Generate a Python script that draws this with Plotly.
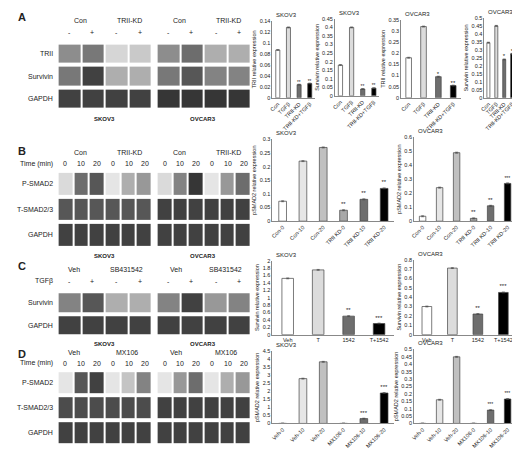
import plotly.graph_objects as go

W, H = 520, 450

# ---- bar chart data ----
a_cats = ["Con", "TGFβ", "TRII-KD", "TRII-KD+TGFβ"]
a_skov_trii = [0.087, 0.128, 0.024, 0.026]
a_skov_surv = [0.18, 0.40, 0.04, 0.045]
a_ov_trii = [0.18, 0.32, 0.095, 0.055]
a_ov_surv = [0.345, 0.45, 0.24, 0.275]
a_sig_skov = ["", "", "**", "**"]
a_sig_ov = ["", "", "*", "**"]
a_sig_ov_s = ["", "", "*", "*"]

b_cats = ["Con-0", "Con-10", "Con-20", "TRII KD-0", "TRII KD-10", "TRII KD-20"]
b_skov = [0.073, 0.22, 0.27, 0.04, 0.08, 0.12]
b_ov = [0.035, 0.24, 0.49, 0.02, 0.11, 0.27]
b_sig_skov = ["", "", "", "**", "**", "**"]
b_sig_ov = ["", "", "", "**", "**", "***"]

c_cats = ["Veh", "T", "1542", "T+1542"]
c_skov = [1.52, 1.75, 0.5, 0.3]
c_ov = [0.30, 0.71, 0.22, 0.45]
c_sig = ["", "", "**", "***"]

d_cats = ["Veh-0", "Veh-10", "Veh-20", "MX106-0", "MX106-10", "MX106-20"]
d_skov = [0, 2.8, 3.85, 0, 0.3, 1.9]
d_ov = [0, 0.16, 0.45, 0, 0.09, 0.165]
d_sig = ["", "", "", "", "***", "***"]

col4 = ["white", "#dcdcdc", "#6e6e6e", "black"]
col6 = ["white", "#e6e6e6", "#c0c0c0", "#a8a8a8", "#6e6e6e", "black"]

# ---- blot band intensities (0 light .. 1 dark) ----
blots = {
    "A_skov": (["TRII", "Survivin", "GAPDH"], [[0.45, 0.55, 0.12, 0.18], [0.55, 0.8, 0.3, 0.3], [0.8, 0.8, 0.8, 0.8]]),
    "A_ov": (None, [[0.45, 0.6, 0.3, 0.3], [0.55, 0.7, 0.5, 0.5], [0.85, 0.85, 0.85, 0.85]]),
    "B_skov": (["P-SMAD2", "T-SMAD2/3", "GAPDH"], [[0.1, 0.6, 0.7, 0.05, 0.3, 0.4], [0.7] * 6, [0.8] * 6]),
    "B_ov": (None, [[0.1, 0.5, 0.85, 0.05, 0.4, 0.6], [0.8] * 6, [0.8] * 6]),
    "C_skov": (["Survivin", "GAPDH"], [[0.5, 0.7, 0.3, 0.3], [0.8] * 4]),
    "C_ov": (None, [[0.5, 0.8, 0.4, 0.5], [0.8] * 4]),
    "D_skov": (["P-SMAD2", "T-SMAD2/3", "GAPDH"], [[0.05, 0.7, 0.8, 0.05, 0.2, 0.5], [0.75] * 6, [0.8] * 6]),
    "D_ov": (None, [[0.05, 0.4, 0.6, 0.05, 0.3, 0.4], [0.8] * 6, [0.8] * 6]),
}

fig = go.Figure()
layout = {}
ann = []
n = [0]


def new_axes(x0, x1, y0, y1):
    n[0] += 1
    k = n[0]
    xd, yd = [x0 / W, x1 / W], [1 - y1 / H, 1 - y0 / H]
    sfx = "" if k == 1 else str(k)
    return sfx, xd, yd


def note(x, y, t, size=7, anchor="center", yanchor="middle", bold=False):
    ann.append(dict(x=x / W, y=1 - y / H, xref="paper", yref="paper",
                    text="<b>%s</b>" % t if bold else t, xanchor=anchor, yanchor=yanchor,
                    showarrow=False, font=dict(size=size)))


def blot(key, x0, x1, y0, y1):
    rows, z = blots[key]
    sfx, xd, yd = new_axes(x0, x1, y0, y1)
    fig.add_trace(go.Heatmap(z=z[::-1], colorscale=[[0, "#f0f0f0"], [1, "#151515"]],
                             zmin=0, zmax=1, showscale=False, xgap=2, ygap=4,
                             xaxis="x" + sfx, yaxis="y" + sfx, hoverinfo="skip"))
    layout["xaxis" + sfx] = dict(domain=xd, visible=False, anchor="y" + sfx)
    layout["yaxis" + sfx] = dict(domain=yd, visible=False, anchor="x" + sfx)
    if rows:
        nr = len(rows)
        for i, r in enumerate(rows):
            note(x0 - 3, y0 + (i + 0.5) * (y1 - y0) / nr, r, size=7, anchor="right")


def bars(cats, vals, sig, colors, title, ytitle, ymax, dtick, x0, x1, y0, y1, angle):
    sfx, xd, yd = new_axes(x0, x1, y0, y1)
    fig.add_trace(go.Bar(x=cats, y=vals, marker=dict(color=colors, line=dict(color="#444", width=0.7)),
                         width=0.38, text=sig, textposition="outside", textfont=dict(size=6, color="#222"),
                         cliponaxis=False,
                         error_y=dict(type="constant", value=ymax * 0.006, thickness=0.6, width=1.5, color="#444"),
                         xaxis="x" + sfx, yaxis="y" + sfx, showlegend=False))
    layout["xaxis" + sfx] = dict(domain=xd, anchor="y" + sfx, showline=True, linecolor="#888",
                                 tickangle=angle, tickfont=dict(size=5.5), ticks="")
    layout["yaxis" + sfx] = dict(domain=yd, anchor="x" + sfx, range=[0, ymax], dtick=dtick,
                                 showline=True, linecolor="#888", showgrid=False,
                                 tickfont=dict(size=5.5), ticks="",
                                 title=dict(text=ytitle, font=dict(size=5.5), standoff=2))
    note(x0 + 2, y0 - 1, title, size=6, anchor="left", yanchor="bottom")


lanes4 = [(57, "-"), (80, "+"), (105, "-"), (128, "+"), (157, "-"), (180, "+"), (205, "-"), (228, "+")]

# ---- Panel A ----
blot("A_skov", 45, 140, 32, 100)
blot("A_ov", 145, 240, 32, 100)
for xc, t in [(68, "Con"), (118, "TRII-KD"), (168, "Con"), (218, "TRII-KD")]:
    note(xc, 10, t)
for xc, t in lanes4:
    note(xc, 22, t)
note(92, 109, "SKOV3", bold=True, size=6)
note(192, 109, "OVCAR3", bold=True, size=6)
bars(a_cats, a_skov_trii, a_sig_skov, col4, "SKOV3", "TRII relative expression", 0.14, 0.02, 262, 305, 10, 88, -45)
bars(a_cats, a_skov_surv, a_sig_skov, col4, "SKOV3", "Survivin relative expression", 0.45, 0.05, 325, 370, 8, 86, -45)
bars(a_cats, a_ov_trii, a_sig_ov, col4, "OVCAR3", "TRII relative expression", 0.35, 0.05, 392, 452, 9, 88, -45)
bars(a_cats, a_ov_surv, a_sig_ov_s, col4, "OVCAR3", "Survivin relative expression", 0.5, 0.05, 476, 508, 7, 88, -45)

# ---- Panel B ----
blot("B_skov", 45, 140, 162, 240)
blot("B_ov", 145, 240, 162, 240)
for xc, t in [(68, "Con"), (118, "TRII-KD"), (168, "Con"), (218, "TRII-KD")]:
    note(xc, 143, t)
note(42, 155, "Time (min)", anchor="right")
for base in (45, 145):
    for i, t in enumerate(["0", "10", "20", "0", "10", "20"]):
        note(base + 8 + i * 16, 155, t)
note(92, 248, "SKOV3", bold=True, size=6)
note(192, 248, "OVCAR3", bold=True, size=6)
bars(b_cats, b_skov, b_sig_skov, col6, "SKOV3", "pSMAD2 relative expression", 0.3, 0.05, 262, 385, 130, 213, -45)
bars(b_cats, b_ov, b_sig_ov, col6, "OVCAR3", "pSMAD2 relative expression", 0.6, 0.1, 405, 508, 128, 213, -45)

# ---- Panel C ----
blot("C_skov", 45, 140, 284, 330)
blot("C_ov", 145, 240, 284, 330)
for xc, t in [(62, "Veh"), (115, "SB431542"), (165, "Veh"), (215, "SB431542")]:
    note(xc, 262, t)
note(42, 274, "TGFβ", anchor="right")
for xc, t in lanes4:
    note(xc, 274, t)
note(92, 338, "SKOV3", bold=True, size=6)
note(192, 338, "OVCAR3", bold=True, size=6)
bars(c_cats, c_skov, c_sig, col4, "SKOV3", "Survivin relative expression", 2, 0.2, 262, 385, 253, 328, 0)
bars(c_cats, c_ov, c_sig, col4, "OVCAR3", "Survivin relative expression", 0.8, 0.1, 405, 508, 252, 328, 0)

# ---- Panel D ----
blot("D_skov", 45, 140, 364, 440)
blot("D_ov", 145, 240, 364, 440)
for xc, t in [(62, "Veh"), (115, "MX106"), (165, "Veh"), (215, "MX106")]:
    note(xc, 346, t)
note(42, 357, "Time (min)", anchor="right")
for base in (45, 145):
    for i, t in enumerate(["0", "10", "20", "0", "10", "20"]):
        note(base + 8 + i * 16, 357, t)
note(92, 447, "SKOV3", bold=True, size=6)
note(192, 447, "OVCAR3", bold=True, size=6)
bars(d_cats, d_skov, d_sig, col6, "SKOV3", "pSMAD2 relative expression", 4.5, 0.5, 262, 385, 345, 418, -45)
bars(d_cats, d_ov, d_sig, col6, "OVCAR3", "pSMAD2 relative expression", 0.5, 0.05, 405, 508, 343, 418, -45)

for x, y, t in [(3, 6, "A"), (3, 142, "B"), (3, 258, "C"), (3, 348, "D")]:
    note(x, y, t, size=11, anchor="left", bold=True)

fig.update_layout(width=W, height=H, margin=dict(l=0, r=0, t=0, b=0),
                  plot_bgcolor="white", paper_bgcolor="white",
                  font=dict(family="Liberation Sans, Arial", color="#222"),
                  annotations=ann, bargap=0.5, **layout)
fig.write_html("out.html")
